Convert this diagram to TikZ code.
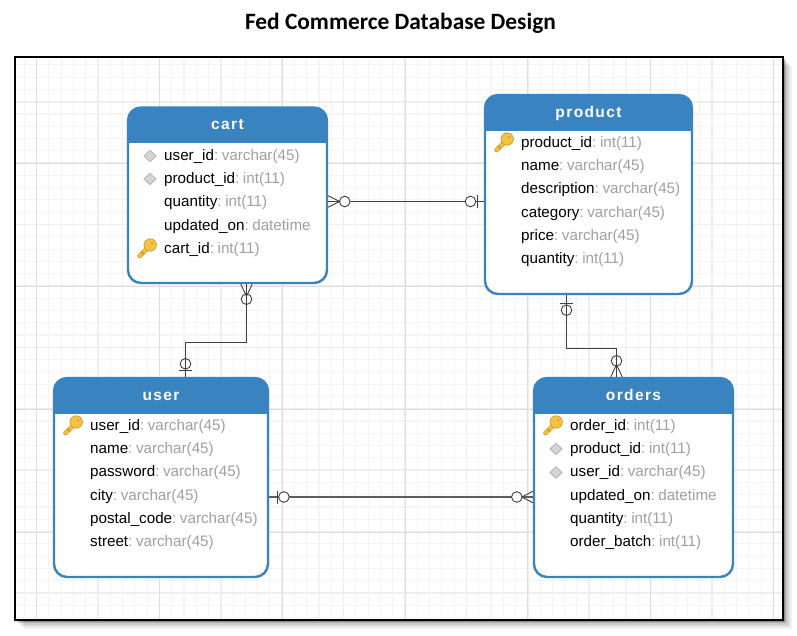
\documentclass[tikz,border=0pt]{standalone}
\usepackage{fontspec}
\setmainfont{Liberation Sans}
\newfontfamily\titlefont{Carlito}
\newfontfamily\hdrfont[LetterSpace=9]{Liberation Sans}
\definecolor{tblue}{HTML}{3A83C1}
\definecolor{gfine}{HTML}{F4F4F4}
\definecolor{gmid}{HTML}{EEEEEE}
\definecolor{gdark}{HTML}{DEDEDE}
\definecolor{conn}{HTML}{404040}
\definecolor{typegray}{HTML}{A0A0A0}
\definecolor{keygold}{HTML}{F5C344}
\definecolor{keyedge}{HTML}{D8A02E}
\tikzset{
  tbl/.style={draw=tblue,line width=2.4pt,fill=white,rounded corners=13pt,inner sep=0pt},
  rowtext/.style={anchor=base west,inner sep=0pt,font=\fontsize{15.2}{16}\selectfont,text=black},
  hdrtext/.style={inner sep=0pt,text=white,text height=12.5pt,text depth=2.5pt,font=\hdrfont\fontsize{15.5}{18}\bfseries\selectfont},
  conline/.style={draw=conn,line width=1pt},
  sym/.style={draw=conn,line width=.9pt},
  fkdiamond/.style={draw=black!27,line width=1pt,fill=black!17},
}
\newcommand{\tablebox}[7]{% name x0 y0 x1 y1 yh title
  \pgfmathsetmacro{\tcx}{(#2+#4)/2}\pgfmathsetmacro{\tcy}{(#3+#5)/2}
  \pgfmathsetmacro{\twd}{#4-#2}\pgfmathsetmacro{\tht}{#5-#3}
  \node[tbl,minimum width=\twd pt,minimum height=\tht pt] (#1) at (\tcx,\tcy) {};
  \begin{scope}
    \clip (#2-3,#3-3) rectangle (#4+3,#6);
    \fill[tblue,rounded corners=13pt] (#2,#3) rectangle (#4,#5);
  \end{scope}
  \pgfmathsetmacro{\tty}{(#3+#6)/2}
  \node[hdrtext] (#1title) at (\tcx,\tty) {#7};
}
\newcommand{\row}[5]{% name x y field type
  \node[rowtext] (#1) at (#2,#3) {#4\textcolor{typegray}{:\hspace{3.6pt}#5}};
}
\newcommand{\fkmark}[2]{%
  \fill[fkdiamond] (#1-6,#2) -- (#1,#2-5.7) -- (#1+6,#2) -- (#1,#2+5.7) -- cycle;
}
\newcommand{\keymark}[2]{% centre of the key
  \begin{scope}[shift={(#1,#2)}]
    \draw[keyedge,line width=4.6pt,line cap=round] (3,-2.5) -- (-7.5,8);
    \draw[keygold,line width=3pt,line cap=round] (3,-2.5) -- (-7.5,8);
    \draw[keyedge,line width=2.4pt] (-5.5,4) -- (-3,6.6);
    \fill[keygold,draw=keyedge,line width=.8pt] (3.2,-3) circle (6.2);
    \fill[keyedge] (5,-4.8) circle (1.3);
  \end{scope}
}
\begin{document}
\begin{tikzpicture}[x=1pt,y=-1pt]
\useasboundingbox (0,0) rectangle (797,635);
\fill[white] (0,0) rectangle (797,635);
% title
\node[inner sep=0pt,font=\titlefont\fontsize{23.4}{26}\bfseries\selectfont] (title) at (400.5,23) {Fed Commerce Database Design};
% frame shadow
\foreach \s/\o in {9/.05,7/.07,5/.09,3/.13,1.5/.2}
  \fill[black,opacity=\o] (15+\s,57+\s) rectangle (783+\s,620+\s);
\fill[white] (15,57) rectangle (783,620);
% grid
\begin{scope}
\clip (15,57) rectangle (783,620);
\foreach \i in {-2,...,64} {
  \pgfmathsetmacro{\xx}{36.6+12.28*\i}
  \draw[gfine,line width=1.1pt] (\xx,57) -- (\xx,620);
}
\foreach \i in {-4,...,48} {
  \pgfmathsetmacro{\yy}{101.7+12.28*\i}
  \draw[gfine,line width=1.1pt] (15,\yy) -- (783,\yy);
}
\foreach \i in {0,...,12} {
  \pgfmathsetmacro{\xx}{36.6+61.4*\i}
  \draw[gmid,line width=1.6pt] (\xx,57) -- (\xx,620);
}
\foreach \i in {-1,...,9} {
  \pgfmathsetmacro{\yy}{101.7+61.4*\i}
  \draw[gmid,line width=1.6pt] (15,\yy) -- (783,\yy);
}
\foreach \i in {0,...,6} {
  \pgfmathsetmacro{\xx}{36.6+122.8*\i}
  \draw[gdark,line width=.9pt] (\xx,57) -- (\xx,620);
}
\foreach \i in {0,...,3} {
  \pgfmathsetmacro{\yy}{163.3+123*\i}
  \draw[gdark,line width=.9pt] (15,\yy) -- (783,\yy);
}
\end{scope}
\draw[black,line width=2.2pt] (15,57) rectangle (783,620);
% tables
\tablebox{cart}{128}{107.5}{327}{283}{142}{cart}
\tablebox{product}{485}{95}{692}{294}{130}{product}
\tablebox{user}{54}{378}{268}{577}{413}{user}
\tablebox{orders}{534}{378}{733}{577}{413}{orders}
% cart rows
\fkmark{150}{156}\fkmark{150}{179}
\row{c1}{164}{160}{user\_id}{varchar(45)}
\row{c2}{164}{183.2}{product\_id}{int(11)}
\row{c3}{164}{206.4}{quantity}{int(11)}
\row{c4}{164}{230.1}{updated\_on}{datetime}
\row{c5}{164}{253}{cart\_id}{int(11)}
\keymark{147}{248}
% product rows
\row{p1}{521}{147}{product\_id}{int(11)}
\row{p2}{521}{170.2}{name}{varchar(45)}
\row{p3}{521}{193.4}{description}{varchar(45)}
\row{p4}{521}{217.1}{category}{varchar(45)}
\row{p5}{521}{240}{price}{varchar(45)}
\row{p6}{521}{263.7}{quantity}{int(11)}
\keymark{504}{142}
% user rows
\row{u1}{90}{430}{user\_id}{varchar(45)}
\row{u2}{90}{453.2}{name}{varchar(45)}
\row{u3}{90}{476.4}{password}{varchar(45)}
\row{u4}{90}{500.1}{city}{varchar(45)}
\row{u5}{90}{523}{postal\_code}{varchar(45)}
\row{u6}{90}{546.7}{street}{varchar(45)}
\keymark{73}{425}
% orders rows
\fkmark{556}{449}\fkmark{556}{472.5}
\row{o1}{570}{430}{order\_id}{int(11)}
\row{o2}{570}{453.2}{product\_id}{int(11)}
\row{o3}{570}{476.4}{user\_id}{varchar(45)}
\row{o4}{570}{500.1}{updated\_on}{datetime}
\row{o5}{570}{523}{quantity}{int(11)}
\row{o6}{570}{546.7}{order\_batch}{int(11)}
\keymark{553}{425}
% connectors: cart - product
\coordinate (cpA) at ([yshift=-6.25pt]cart.east);
\coordinate (cpB) at (product.west |- cpA);
\draw[conline] (cpA) -- (cpB);
\draw[sym,fill=white] ([xshift=16.5pt]cpA) circle (5.3);
\draw[sym] ([yshift=5.7pt]cpA) -- ([xshift=11.5pt]cpA) -- ([yshift=-5.7pt]cpA);
\draw[sym,fill=white] ([xshift=-13.3pt]cpB) circle (5.3);
\draw[sym] ([xshift=-6.7pt,yshift=6.5pt]cpB) -- ([xshift=-6.7pt,yshift=-6.5pt]cpB);
% cart - user
\coordinate (cuA) at ([xshift=19pt]cart.south);
\coordinate (cuB) at ([xshift=24.5pt]user.north);
\coordinate (cuM) at (0,342.5);
\draw[conline] (cuA) -- (cuA |- cuM) -- (cuB |- cuM) -- (cuB);
\draw[sym] ([xshift=-5.7pt]cuA) -- ([yshift=-12pt]cuA) -- ([xshift=5.7pt]cuA);
\draw[sym] ([yshift=-15pt]cuA) circle (5.3);
\draw[sym] ([yshift=13pt]cuB) circle (5.3);
\draw[sym] ([xshift=-6.7pt,yshift=6.5pt]cuB) -- ([xshift=6.7pt,yshift=6.5pt]cuB);
% product - orders
\coordinate (poA) at ([xshift=-22pt]product.south);
\coordinate (poB) at ([xshift=-17pt]orders.north);
\coordinate (poM) at (0,348.5);
\draw[conline] (poA) -- (poA |- poM) -- (poB |- poM) -- (poB);
\draw[sym] ([xshift=-6.2pt,yshift=-8.3pt]poA) -- ([xshift=6.2pt,yshift=-8.3pt]poA);
\draw[sym] ([yshift=-15pt]poA) circle (5.3);
\draw[sym] ([xshift=-5.7pt]poB) -- ([yshift=12pt]poB) -- ([xshift=5.7pt]poB);
\draw[sym] ([yshift=16pt]poB) circle (5.3);
% user - orders
\coordinate (uoA) at ([yshift=-19.5pt]user.east);
\coordinate (uoB) at (orders.west |- uoA);
\draw[conline,line width=1.3pt,draw=conn!85] (uoA) -- (uoB);
\draw[sym,fill=white] ([xshift=14.7pt]uoA) circle (5.3);
\draw[sym] ([xshift=8.7pt,yshift=6.5pt]uoA) -- ([xshift=8.7pt,yshift=-6.5pt]uoA);
\draw[sym,fill=white] ([xshift=-16pt]uoB) circle (5.3);
\draw[sym] ([yshift=5.7pt]uoB) -- ([xshift=-11pt]uoB) -- ([yshift=-5.7pt]uoB);
\end{tikzpicture}
\end{document}
